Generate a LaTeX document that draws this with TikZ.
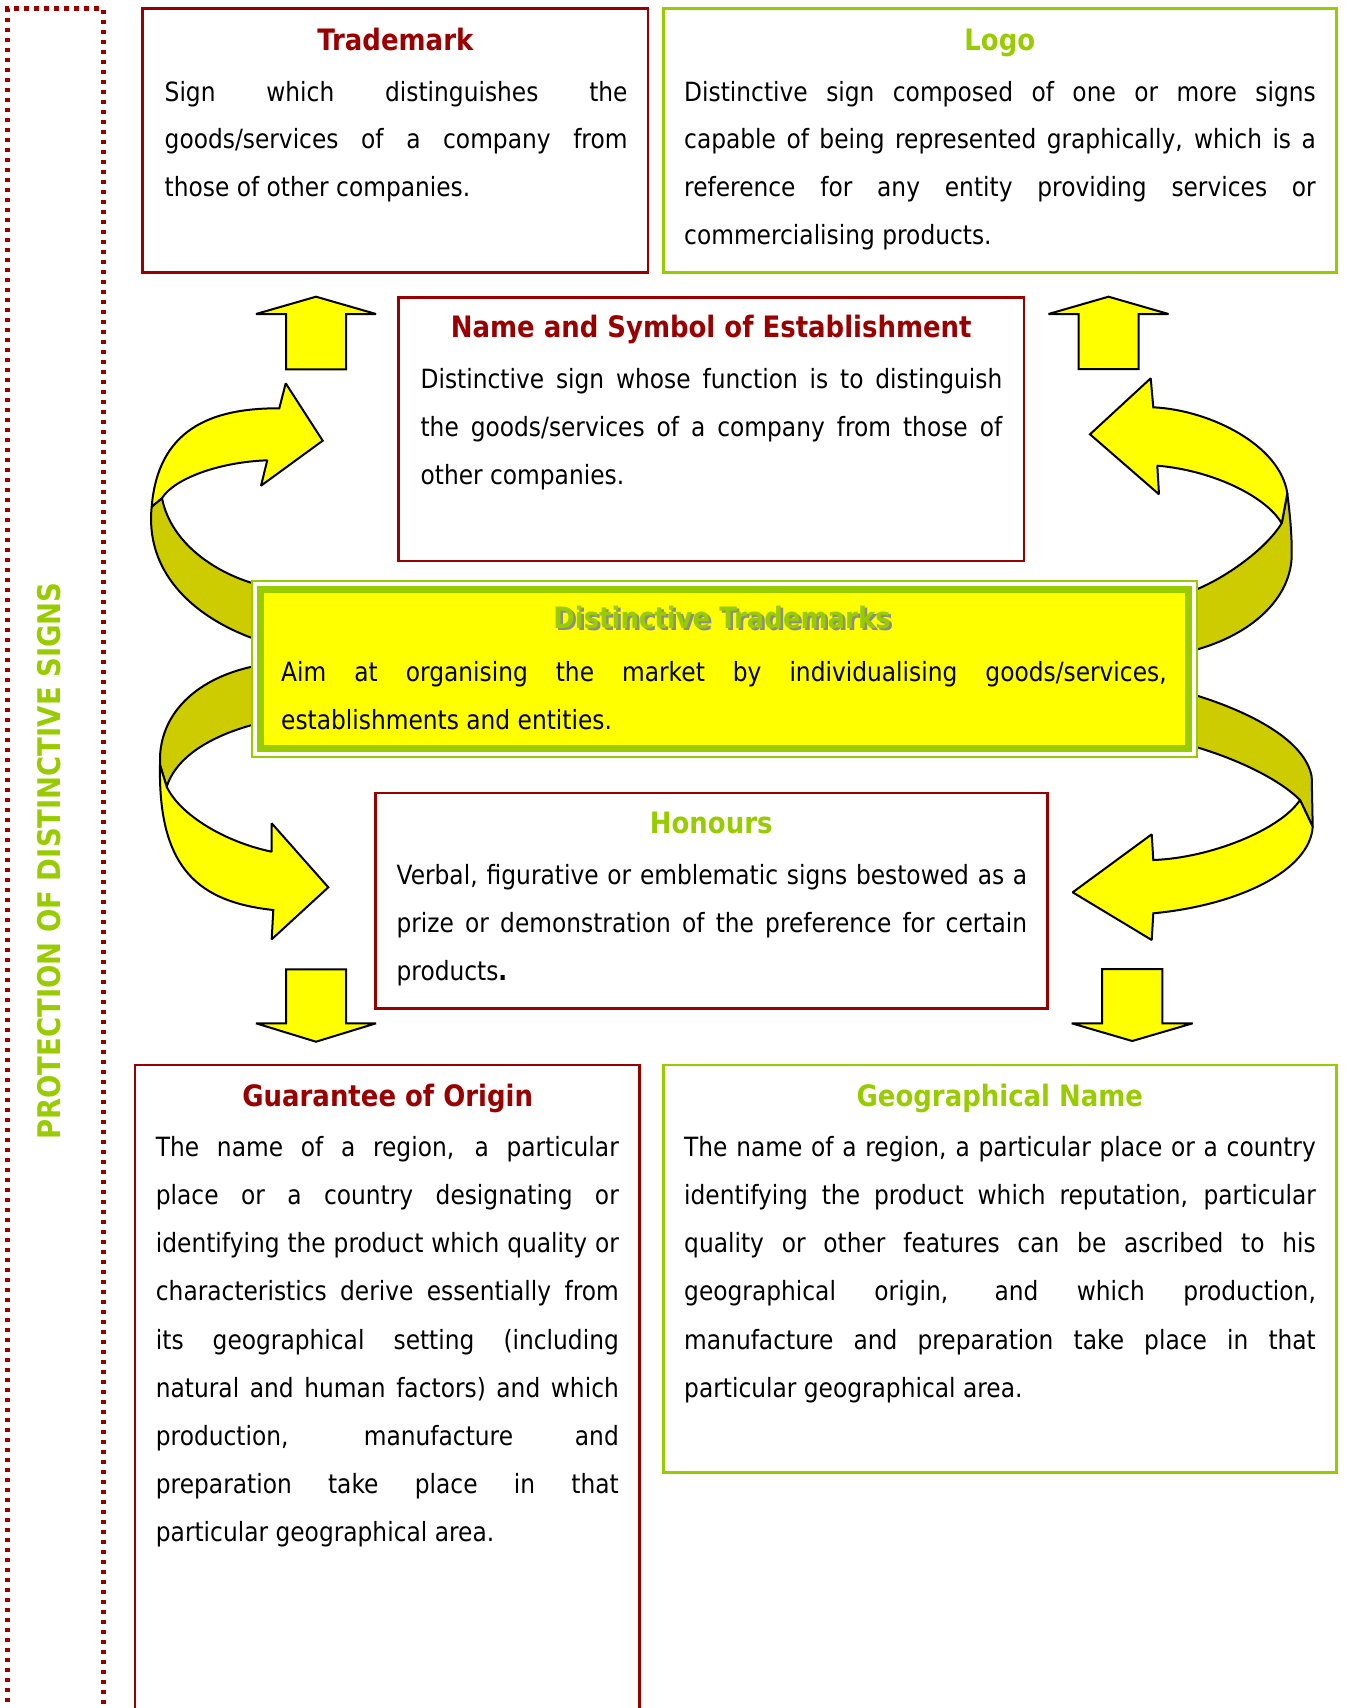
\documentclass[tikz,border=0pt]{standalone}
\usepackage{fontspec}
\setmainfont{DejaVu Sans}[FakeStretch=0.88]
\definecolor{dred}{HTML}{990000}
\definecolor{lgreen}{HTML}{99CC00}
\definecolor{yel}{HTML}{FFFF00}
\definecolor{dyel}{HTML}{CCCC00}
\definecolor{shadowgray}{HTML}{8C8C8C}
\newcommand{\jl}[1]{\makebox[\linewidth][s]{#1}\\}
\newcommand{\bodytext}[3]{\parbox[t]{#1}{\fontsize{26.5}{#2}\selectfont #3}}
\tikzset{
  redbox/.style={draw=dred, line width=2.5pt, inner sep=0pt},
  greenbox/.style={draw=lgreen, line width=2.5pt, inner sep=0pt},
  ttl/.style={anchor=base, inner sep=0pt, font=\fontsize{29.5}{35}\selectfont\bfseries},
  body/.style={anchor=base west, inner sep=0pt},
  blockarrow/.style={fill=yel, draw=black, line width=2pt, line join=miter, miter limit=1.5},
  backribbon/.style={fill=dyel, draw=black, line width=2pt, line join=round},
  frontribbon/.style={fill=yel, draw=black, line width=2pt, line join=miter, miter limit=1.5},
  dotline/.style={draw=dred, line width=4.5pt, dash pattern=on 4.5pt off 5.5pt},
}
\begin{document}
\begin{tikzpicture}[x=1pt,y=-1pt]
\useasboundingbox (0,0) rectangle (1344,1708);

% dotted frame
\draw[dotline] (7.6,1712) -- (7.6,8.7) -- (103.5,8.7) -- (103.5,1712);
\node[rotate=90, text=lgreen, inner sep=0pt, font=\fontsize{31.2}{37}\selectfont\bfseries] (side) at (49,861) {PROTECTION OF DISTINCTIVE SIGNS};

% boxes
\node[redbox, minimum width=505.3pt, minimum height=263.6pt] (tm) at (395.3,140.5) {};
\node[greenbox, minimum width=673pt, minimum height=263.6pt] (logo) at (999.8,140.5) {};
\node[redbox, minimum width=625.2pt, minimum height=263.6pt] (name) at (711.2,429.1) {};
\node[redbox, minimum width=672pt, minimum height=215.6pt] (hon) at (711.7,900.7) {};
\node[redbox, minimum width=504.3pt, minimum height=650pt] (guar) at (387.15,1390) {};
\node[greenbox, minimum width=673pt, minimum height=407.3pt] (geo) at (999.8,1268.75) {};

% straight block arrows
\path[blockarrow] (286,369.3) -- (286,314) -- (256,314) -- (316,296.7) -- (376,314) -- (346,314) -- (346,369.3) -- cycle;
\path[blockarrow] (1078.5,369) -- (1078.5,314) -- (1048.5,314) -- (1108.5,296.7) -- (1168.5,314) -- (1138.5,314) -- (1138.5,369) -- cycle;
\path[blockarrow] (286,969.3) -- (286,1023.3) -- (256,1023.3) -- (316,1041.7) -- (376,1023.3) -- (346,1023.3) -- (346,969.3) -- cycle;
\path[blockarrow] (1102,969) -- (1102,1023.3) -- (1071.7,1023.3) -- (1132.2,1041) -- (1192.7,1023.3) -- (1162.3,1023.3) -- (1162.3,969) -- cycle;

% curved arrow top-left
\path[backribbon] (252,583) .. controls (210,570) and (170,540) .. (162,498)
  -- (151.7,506.7) .. controls (145,570) and (190,615) .. (252,638) -- cycle;
\path[frontribbon] (151.7,506.7) .. controls (158,430) and (210,408) .. (279.3,408.3)
  -- (285.7,383.3) -- (322.7,440.7) -- (261,485.7) -- (267.3,460.3)
  .. controls (220,462) and (175,478) .. (162,498) -- cycle;

% curved arrow top-right
\path[backribbon] (1287.3,493.3) .. controls (1290,515) and (1292,535) .. (1291.7,556.7)
  .. controls (1290,600) and (1250,635) .. (1195,650) -- (1195,590)
  .. controls (1225,578) and (1265,550) .. (1281.7,523.3) -- cycle;
\path[frontribbon] (1287.3,493.3) .. controls (1280,445) and (1210,410) .. (1153.3,407.3)
  -- (1150.7,378.3) -- (1090,434.3) -- (1159,494.3) -- (1157.3,465.7)
  .. controls (1210,470) and (1265,495) .. (1281.7,523.3) -- cycle;

% curved arrow bottom-left
\path[backribbon] (252,666.7) .. controls (200,678) and (162,710) .. (160,756.7)
  -- (160,765) -- (166.7,786.7) .. controls (175,760) and (205,738) .. (252,725) -- cycle;
\path[frontribbon] (160,765) .. controls (158,870) and (200,902) .. (273.3,910)
  -- (271.7,939.3) -- (328.3,887.3) -- (271.7,823.3) -- (271.7,851.7)
  .. controls (225,842) and (180,815) .. (166.7,786.7) -- cycle;

% curved arrow bottom-right
\path[backribbon] (1195,695) .. controls (1250,712) and (1305,740) .. (1311.7,776.7)
  -- (1312.7,826.7) -- (1300,800) .. controls (1280,780) and (1240,760) .. (1195,746.7) -- cycle;
\path[frontribbon] (1312.7,826.7) .. controls (1310,870) and (1240,905) .. (1153.3,913.3)
  -- (1151.7,940) -- (1072.7,892.3) -- (1151.7,834.3) -- (1153.3,860)
  .. controls (1210,858) and (1280,830) .. (1300,800) -- cycle;

% central box
\node[draw=lgreen, line width=2pt, fill=white, minimum width=945.3pt, minimum height=176.5pt, inner sep=0pt] (dtouter) at (724.25,668.75) {};
\node[draw=lgreen, line width=7pt, fill=yel, minimum width=928pt, minimum height=159pt, inner sep=0pt] (dt) at (724.25,668.75) {};

% titles
\node[ttl, text=dred] (tmt) at (395.3,50) {Trademark};
\node[ttl, text=lgreen] (logot) at (999.8,50) {Logo};
\node[ttl, text=dred] (namet) at (711.2,337.5) {Name and Symbol of Establishment};
\node[ttl, text=shadowgray] (dtts) at (724.5,630.5) {Distinctive Trademarks};
\node[ttl, text=lgreen] (dtt) at (722,628) {Distinctive Trademarks};
\node[ttl, text=lgreen] (hont) at (711.2,833) {Honours};
\node[ttl, text=dred] (guart) at (387.7,1106) {Guarantee of Origin};
\node[ttl, text=lgreen] (geot) at (999.8,1106) {Geographical Name};

% body texts
\node[body] (tmb) at (164.5,101) {\bodytext{462.8pt}{47.9}{%
\jl{Sign which distinguishes the}
\jl{goods/services of a company from}
those of other companies.}};

\node[body] (logob) at (684,101) {\bodytext{631.6pt}{47.9}{%
\jl{Distinctive sign composed of one or more signs}
\jl{capable of being represented graphically, which is a}
\jl{reference for any entity providing services or}
commercialising products.}};

\node[body] (nameb) at (420.4,388.5) {\bodytext{581.6pt}{47.9}{%
\jl{Distinctive sign whose function is to distinguish}
\jl{the goods/services of a company from those of}
other companies.}};

\node[body] (dtb) at (281,681.5) {\bodytext{885.4pt}{47.9}{%
\jl{Aim at organising the market by individualising goods/services,}
establishments and entities.}};

\node[body] (honb) at (396.4,884) {\bodytext{630.6pt}{48.4}{%
\jl{Verbal, figurative or emblematic signs bestowed as a}
\jl{prize or demonstration of the preference for certain}
products{\bfseries .}}};

\node[body] (guarb) at (155.7,1156.3) {\bodytext{462.9pt}{48.2}{%
\jl{The name of a region, a particular}
\jl{place or a country designating or}
\jl{identifying the product which quality or}
\jl{characteristics derive essentially from}
\jl{its geographical setting (including}
\jl{natural and human factors) and which}
\jl{production, manufacture and}
\jl{preparation take place in that}
particular geographical area.}};

\node[body] (geob) at (684,1156.3) {\bodytext{631.6pt}{48.2}{%
\jl{The name of a region, a particular place or a country}
\jl{identifying the product which reputation, particular}
\jl{quality or other features can be ascribed to his}
\jl{geographical origin, and which production,}
\jl{manufacture and preparation take place in that}
particular geographical area.}};
\end{tikzpicture}
\end{document}
